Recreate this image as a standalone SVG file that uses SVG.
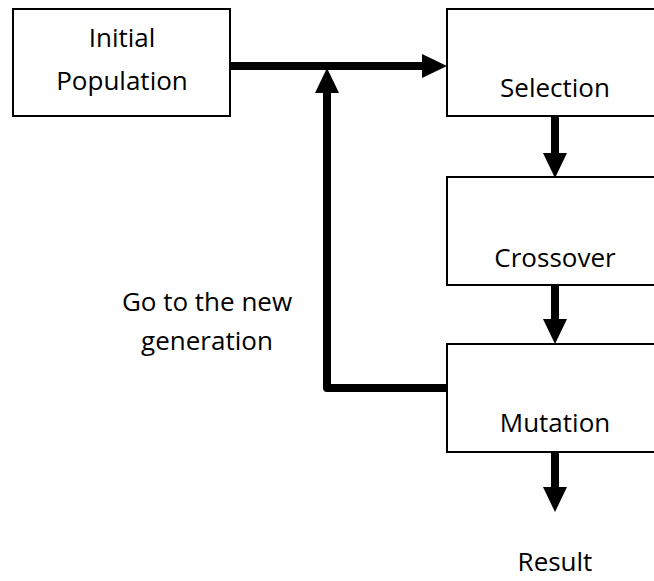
<svg xmlns="http://www.w3.org/2000/svg" width="654" height="581" viewBox="0 0 654 581">
<style>
.box{fill:#fff;stroke:#000;stroke-width:2}
.lbl{font-family:"Open Sans","Liberation Sans",sans-serif;font-size:26px;fill:#000;text-anchor:middle}
.conn{fill:none;stroke:#000;stroke-width:8;stroke-linejoin:round}
</style>
<defs>
<marker id="ah" markerUnits="userSpaceOnUse" markerWidth="25" markerHeight="24" refX="1" refY="12" orient="auto" overflow="visible">
<path d="M0,0 L25,12 L0,24 Z" fill="#000"/>
</marker>
</defs>
<rect width="654" height="581" fill="#fff"/>
<g id="connectors">
<path class="conn" d="M230,66 H423" marker-end="url(#ah)"/>
<path class="conn" d="M447,388 H327 V92" marker-end="url(#ah)"/>
<path class="conn" d="M555,116 V154" marker-end="url(#ah)"/>
<path class="conn" d="M555,285 V320" marker-end="url(#ah)"/>
<path class="conn" d="M555,452 V488" marker-end="url(#ah)"/>
</g>
<g id="initial">
<rect class="box" x="13" y="9" width="217" height="107"/>
<text class="lbl" x="122" y="47">Initial</text>
<text class="lbl" x="122" y="90">Population</text>
</g>
<g id="selection">
<rect class="box" x="447" y="9" width="215" height="107"/>
<text class="lbl" x="555" y="97">Selection</text>
</g>
<g id="crossover">
<rect class="box" x="447" y="177" width="215" height="108"/>
<text class="lbl" x="555" y="267">Crossover</text>
</g>
<g id="mutation">
<rect class="box" x="447" y="344" width="215" height="108"/>
<text class="lbl" x="555" y="432">Mutation</text>
</g>
<g id="result">
<text class="lbl" x="555" y="571">Result</text>
</g>
<g id="feedback-label">
<text class="lbl" x="207" y="311">Go to the new</text>
<text class="lbl" x="207" y="350">generation</text>
</g>
</svg>
